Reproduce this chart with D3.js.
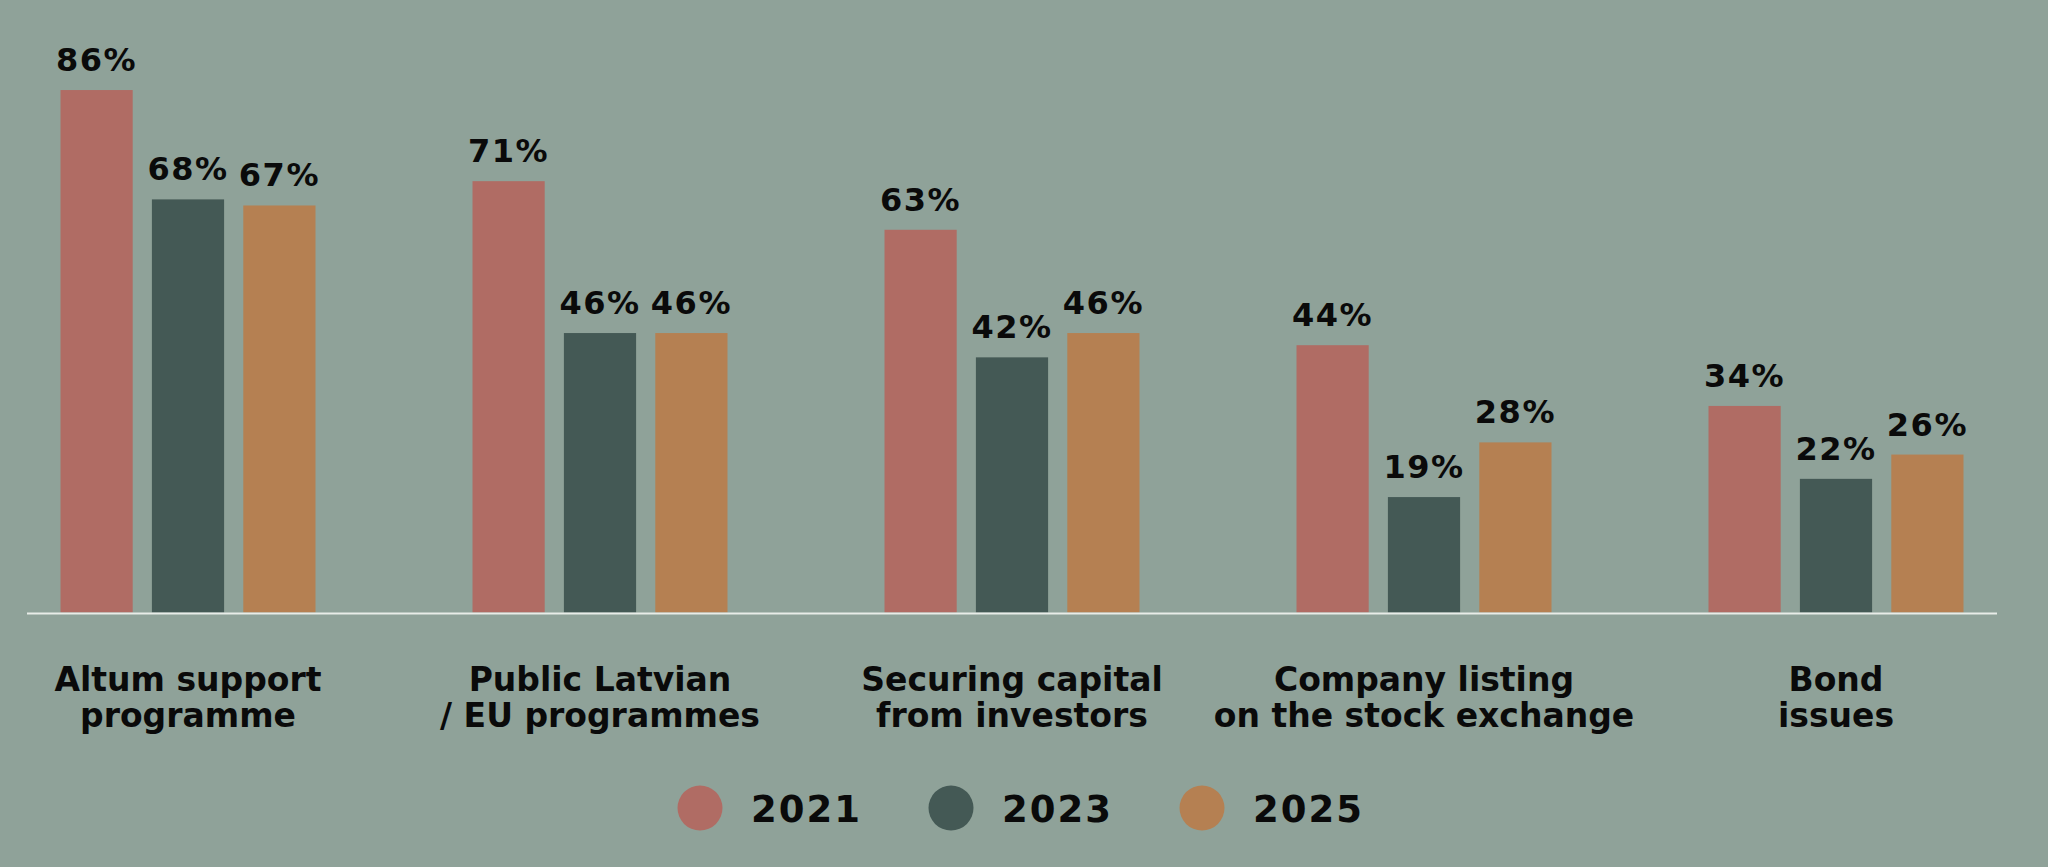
<!DOCTYPE html>
<html>
<head>
<meta charset="utf-8">
<script src="https://cdn.jsdelivr.net/npm/d3@7"></script>
<style>
    body { margin: 0; background: #8fa299; }
    svg { display: block; }
    text { font-family: "DejaVu Sans", sans-serif; fill: #0a0a0a; }
</style>
</head>
<body>
<div id="chart"></div>
<script>
// ====================== grouped bars: funding sources by year ===============

const categories = ['Altum support programme', 'Public Latvian / EU programmes', 'Securing capital from investors',
    'Company listing on the stock exchange', 'Bond issues'];
const categoryLines = [
    ['Altum support', 'programme'],
    ['Public Latvian', '/ EU programmes'],
    ['Securing capital', 'from investors'],
    ['Company listing', 'on the stock exchange'],
    ['Bond', 'issues']
];
const years = ['2021', '2023', '2025'];
const values2021 = [86, 71, 63, 44, 34];
const values2023 = [68, 46, 42, 19, 22];
const values2025 = [67, 46, 46, 28, 26];
const colors = ['#b06c64', '#445955', '#b58052'];

const series = [values2021, values2023, values2025];

const width = 2048;
const height = 867;
const baseY = 612.5;

const svg = d3.select('#chart')
    .append('svg')
    .attr('width', width)
    .attr('height', height);

const x0 = d3.scalePoint()
    .domain(categories)
    .range([188, 1836]);

const x1 = d3.scaleBand()
    .domain(years)
    .range([-127.5, 127.5])
    .paddingInner(0.21)
    .paddingOuter(0);

const y = d3.scaleLinear()
    .domain([0, 100])
    .range([baseY, baseY - 607.5]);

const color = d3.scaleOrdinal()
    .domain(years)
    .range(colors);

const rows = [];
categories.forEach((c, i) => {
    years.forEach((yr, j) => {
        rows.push({ cat: c, year: yr, value: series[j][i] });
    });
});

// bars
svg.append('g')
    .selectAll('rect')
    .data(rows)
    .enter()
    .append('rect')
    .attr('x', d => x0(d.cat) + x1(d.year))
    .attr('y', d => y(d.value))
    .attr('width', x1.bandwidth())
    .attr('height', d => y(0) - y(d.value))
    .attr('fill', d => color(d.year));

// value labels
svg.append('g')
    .selectAll('text')
    .data(rows)
    .enter()
    .append('text')
    .attr('x', d => x0(d.cat) + x1(d.year) + x1.bandwidth() / 2)
    .attr('y', d => y(d.value) - 19)
    .attr('text-anchor', 'middle')
    .attr('font-size', '32px')
    .attr('font-weight', 'bold')
    .attr('letter-spacing', '1.5px')
    .text(d => d.value + '%');

// baseline
svg.append('line')
    .attr('x1', 27)
    .attr('x2', 1997)
    .attr('y1', y(0) + 1)
    .attr('y2', y(0) + 1)
    .attr('stroke', '#e8ece8')
    .attr('stroke-width', 2);

// category labels
const catLabels = svg.append('g')
    .selectAll('text')
    .data(categories)
    .enter()
    .append('text')
    .attr('text-anchor', 'middle')
    .attr('font-size', '33px')
    .attr('font-weight', 'bold');

catLabels.selectAll('tspan')
    .data((d, i) => categoryLines[i].map(t => ({ t, c: d })))
    .enter()
    .append('tspan')
    .attr('x', d => x0(d.c))
    .attr('y', (d, k) => 691 + k * 36)
    .text(d => d.t);

// legend
const lx = d3.scalePoint()
    .domain(years)
    .range([700, 1202]);

const legend = svg.append('g')
    .selectAll('g')
    .data(years)
    .enter()
    .append('g')
    .attr('transform', d => `translate(${lx(d)},808)`);

legend.append('circle')
    .attr('r', 22.5)
    .attr('fill', d => color(d));

legend.append('text')
    .attr('x', 51)
    .attr('y', 14)
    .attr('font-size', '37px')
    .attr('font-weight', 'bold')
    .attr('letter-spacing', '2px')
    .text(d => d);
</script>
</body>
</html>
